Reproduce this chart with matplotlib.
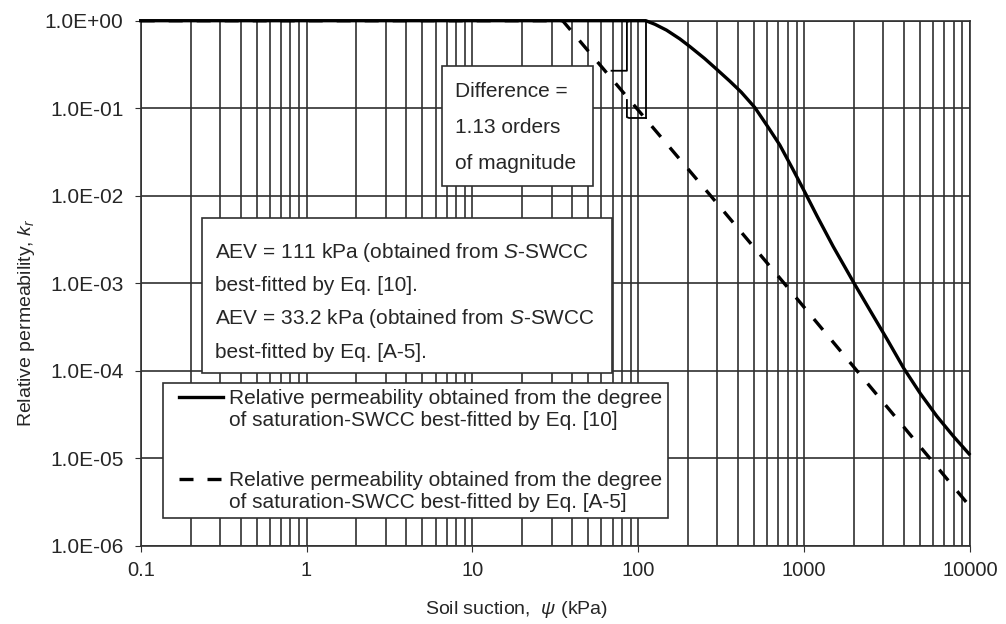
import numpy as np
import matplotlib
matplotlib.use('Agg')
from matplotlib import pyplot as plt
from matplotlib.legend_handler import HandlerLine2D
from matplotlib.patches import Rectangle
from matplotlib.ticker import FixedLocator, FixedFormatter, LogLocator, NullFormatter

# values
suction_eq10 = [0.1, 111, 126, 148, 178, 205, 251, 296, 355, 417, 504, 603, 713, 851, 1009,
                1202, 1496, 1778, 2000, 2512, 3162, 3981, 5012, 6310, 7943, 9870]
kr_eq10 = [1.0, 1.0, 0.91, 0.78, 0.62, 0.505, 0.37, 0.28, 0.205, 0.153, 0.102, 0.0617,
           0.038, 0.0204, 0.0110, 5.75e-3, 2.63e-3, 1.48e-3, 1.0e-3, 4.79e-4, 2.29e-4,
           1.07e-4, 5.5e-5, 3.02e-5, 1.78e-5, 1.12e-5]

suction_a5 = [0.1, 35, 111, 273, 757, 10000]
kr_a5 = [1.0, 1.0, 0.075, 1.0e-2, 1.0e-3, 2.8e-6]

# "difference" brace between the two curves at AEV = 111 kPa
brace_top_x = [90, 85.4, 85.4, 69]
brace_top_y = [1.0, 0.97, 0.268, 0.268]
brace_bot_x = [85.4, 85.4, 88, 111]
brace_bot_y = [0.124, 0.079, 0.0773, 0.0773]
diff_x = [111, 111]
diff_y = [1.0, 0.0773]

x_ticks = [0.1, 1, 10, 100, 1000, 10000]
x_labels = ['0.1', '1', '10', '100', '1000', '10000']
y_ticks = [1e0, 1e-1, 1e-2, 1e-3, 1e-4, 1e-5, 1e-6]
y_labels = ['1.0E+00', '1.0E-01', '1.0E-02', '1.0E-03', '1.0E-04', '1.0E-05', '1.0E-06']

legend_labels = ['Relative permeability obtained from the degree\nof saturation-SWCC best-fitted by Eq. [10]',
                 'Relative permeability obtained from the degree\nof saturation-SWCC best-fitted by Eq. [A-5]']
aev_lines = [r'AEV = 111 kPa (obtained from $\mathit{S}$-SWCC',
             'best-fitted by Eq. [10].',
             r'AEV = 33.2 kPa (obtained from $\mathit{S}$-SWCC',
             'best-fitted by Eq. [A-5].']
diff_lines = ['Difference =', '1.13 orders', 'of magnitude']

plt.rcParams['font.family'] = ['Liberation Sans', 'DejaVu Sans']
plt.rcParams['mathtext.fontset'] = 'custom'
plt.rcParams['mathtext.rm'] = 'Liberation Sans'
plt.rcParams['mathtext.it'] = 'Liberation Sans:italic'

W, H = 1006, 624


def fx(x):
    return x / W


def fy(y):
    return 1 - y / H


class FirstLineHandler(HandlerLine2D):
    # put the legend line next to the first line of a two-line label
    def create_artists(self, legend, orig_handle, xdescent, ydescent, width, height, fontsize, trans):
        artists = super().create_artists(legend, orig_handle, xdescent, ydescent, width, height, fontsize, trans)
        for a in artists:
            a.set_ydata(np.asarray(a.get_ydata()) + 0.6 * fontsize)
        return artists


fig = plt.figure(figsize=(W / 100, H / 100), dpi=100)
ax = fig.add_axes([fx(140.7), fy(545.7), fx(970) - fx(140.7), fy(20.7) - fy(545.7)])
ax.set_xscale('log')
ax.set_yscale('log')
ax.set_xlim(0.1, 10000)
ax.set_ylim(1e-6, 1)

grid_col = '#303030'
txt_col = '#262626'
ax.xaxis.set_major_locator(FixedLocator(x_ticks))
ax.xaxis.set_major_formatter(FixedFormatter(x_labels))
ax.xaxis.set_minor_locator(LogLocator(base=10, subs=np.arange(2, 10)))
ax.xaxis.set_minor_formatter(NullFormatter())
ax.yaxis.set_major_locator(FixedLocator(y_ticks))
ax.yaxis.set_major_formatter(FixedFormatter(y_labels))
ax.yaxis.set_minor_locator(FixedLocator([]))
ax.grid(True, which='major', axis='both', color=grid_col, lw=1.2)
ax.grid(True, which='minor', axis='x', color=grid_col, lw=1.2)
ax.tick_params(axis='x', which='major', length=4, pad=7, labelsize=14.5, color=grid_col, labelcolor=txt_col)
ax.tick_params(axis='x', which='minor', length=0)
ax.tick_params(axis='y', which='major', length=4.5, pad=8, labelsize=15, color=grid_col, labelcolor=txt_col)
for s in ax.spines.values():
    s.set_color(grid_col)
    s.set_linewidth(1.2)

l1, = ax.plot(suction_eq10, kr_eq10, color='black', lw=2.4, clip_on=False, zorder=4)
l2, = ax.plot(suction_a5, kr_a5, color='black', lw=2.4, linestyle=(0, (4.2, 4.2)), zorder=4)

ax.plot(brace_top_x, brace_top_y, color='black', lw=1.3, zorder=3)
ax.plot(brace_bot_x, brace_bot_y, color='black', lw=1.3, zorder=3)
ax.plot(diff_x, diff_y, color='black', lw=1.3, zorder=3)

# text boxes
fs = 15
fig.add_artist(Rectangle((fx(441.7), fy(185.7)), fx(592.7) - fx(441.7), fy(66) - fy(185.7),
                         transform=fig.transFigure, fc='white', ec=grid_col, lw=1.2, zorder=2))
for i, t in enumerate(diff_lines):
    fig.text(fx(455), fy(91.7 + i * 35.7), t, fontsize=fs, va='center', ha='left', color=txt_col, zorder=3)

fig.add_artist(Rectangle((fx(201.7), fy(372.7)), fx(612) - fx(201.7), fy(218.3) - fy(372.7),
                         transform=fig.transFigure, fc='white', ec=grid_col, lw=1.2, zorder=2))
for i, t in enumerate(aev_lines):
    fig.text(fx(215), fy(252 + i * 33.5), t, fontsize=fs, va='center', ha='left', color=txt_col, zorder=3)

leg = ax.legend([l1, l2], legend_labels, loc='upper left', bbox_to_anchor=(fx(163), fy(383)),
                bbox_transform=fig.transFigure, borderaxespad=0, fontsize=fs, frameon=True,
                fancybox=False, framealpha=1, edgecolor=grid_col, borderpad=0.3,
                handlelength=2.6, handletextpad=0.25, labelspacing=1.95,
                handler_map={l1: FirstLineHandler(xpad=0.45), l2: FirstLineHandler(xpad=0.45)})
leg.get_frame().set_linewidth(1.2)
for t in leg.get_texts():
    t.set_color(txt_col)

fig.text(fx(516.7), fy(609), r'Soil suction,  $\mathit{\psi}$ (kPa)', fontsize=14, ha='center', va='center', color=txt_col)
fig.text(fx(27), fy(323), r'Relative permeability, $\mathit{k}_\mathit{r}$', fontsize=14, rotation=90,
         ha='center', va='center', color=txt_col)

fig.savefig('out.png', dpi=100)
